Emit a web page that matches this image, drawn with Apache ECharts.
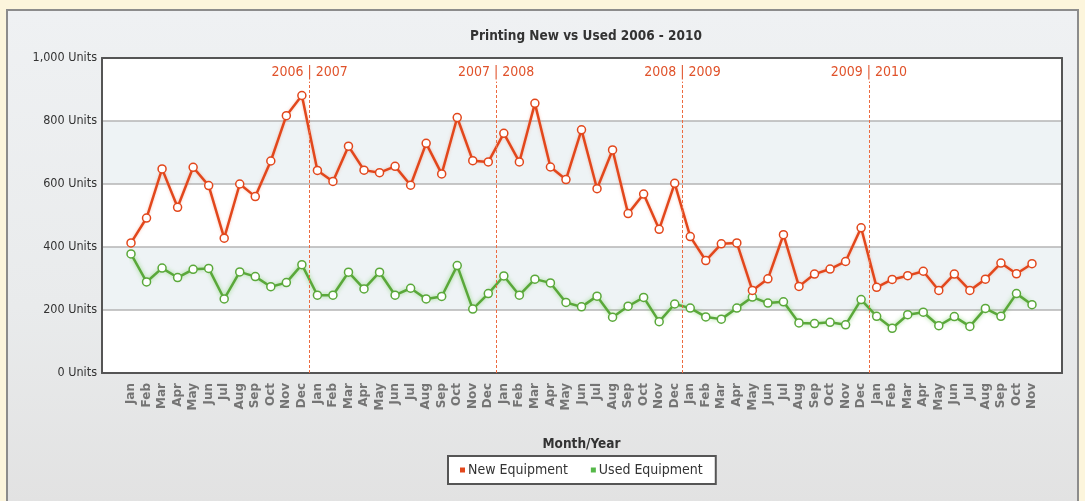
<!DOCTYPE html>
<html>
<head>
<meta charset="utf-8">
<script src="https://cdn.jsdelivr.net/npm/echarts@6/dist/echarts.min.js"></script>
<style>
  html, body { margin: 0; padding: 0; width: 1085px; height: 501px; overflow: hidden; background: #fcf5dc; }
  #panel { position: absolute; left: 6px; top: 9px; width: 1073px; height: 496px; border: 2px solid #8c8c8c;
           background: linear-gradient(#eff1f3, #e9ebec 60%, #e2e2e2); box-sizing: border-box; }
  #chart { position: absolute; left: 0; top: 0; width: 1085px; height: 501px; }
</style>
</head>
<body>
<div id="panel"></div>
<div id="chart"></div>
<script>
const months = ['Jan','Feb','Mar','Apr','May','Jun','Jul','Aug','Sep','Oct','Nov','Dec'];
const years = [2006, 2007, 2008, 2009, 2010];
const monthsInYear = [12, 12, 12, 12, 11];
const categories = [];
years.forEach((y, i) => { for (let m = 0; m < monthsInYear[i]; m++) categories.push(months[m]); });

const newEquipment = [
  413, 492, 648, 526, 653, 595, 428, 600, 560, 673, 817, 881,
  643, 608, 720, 644, 636, 656, 596, 729, 632, 811, 674, 670,
  761, 670, 856, 654, 614, 772, 585, 708, 506, 568, 456, 602,
  433, 357, 410, 413, 262, 299, 439, 275, 314, 330, 354, 461,
  272, 297, 309, 323, 262, 314, 262, 298, 349, 315, 347
];
const usedEquipment = [
  378, 289, 333, 303, 329, 332, 235, 321, 306, 274, 287, 344,
  247, 247, 320, 267, 320, 247, 269, 235, 243, 341, 203, 252,
  308, 247, 298, 286, 224, 210, 244, 177, 212, 240, 163, 219,
  206, 178, 171, 206, 241, 222, 226, 159, 157, 161, 153, 233,
  180, 142, 185, 193, 150, 179, 148, 205, 180, 252, 217
];
const yTicks = [0, 200, 400, 600, 800, 1000];
const yearDividers = ['2006 | 2007', '2007 | 2008', '2008 | 2009', '2009 | 2010'];

// divider sits between each December and the following January
const dividerPositions = [];
let acc = 0;
for (let i = 0; i < yearDividers.length; i++) { acc += monthsInYear[i]; dividerPositions.push(acc - 0.5); }

const ORANGE = '#e2471c';
const GREEN = '#5aa83a';
const condensed = '"DejaVu Sans Condensed", "DejaVu Sans", sans-serif';

const chart = echarts.init(document.getElementById('chart'), null, { renderer: 'canvas' });
chart.setOption({
  backgroundColor: 'transparent',
  animation: false,
  title: {
    text: 'Printing New vs Used 2006 - 2010',
    left: 581, top: 24, textAlign: 'center',
    textStyle: { fontFamily: condensed, fontSize: 13.5, fontWeight: 'bold', color: '#333' }
  },
  legend: {
    data: [
      { name: 'New Equipment', itemStyle: { color: ORANGE, borderWidth: 0 } },
      { name: 'Used Equipment', itemStyle: { color: '#55b848', borderWidth: 0 } }
    ],
    left: 448, top: 456,
    icon: 'rect', itemWidth: 5, itemHeight: 5, itemGap: 23,
    padding: [7, 13, 7, 12],
    backgroundColor: '#fff', borderColor: '#555', borderWidth: 2,
    textStyle: { fontFamily: condensed, fontSize: 14, color: '#333', padding: [0, 0, 0, -2] }
  },
  grid: [
    { left: 102, top: 58, width: 960, height: 315 },
    { left: 131, top: 58, width: 901, height: 315 }
  ],
  xAxis: [
    { gridIndex: 0, type: 'value', min: 0, max: 1, position: 'bottom',
      axisLine: { show: true, lineStyle: { color: '#555', width: 2 } },
      axisTick: { show: false }, axisLabel: { show: false }, splitLine: { show: false } },
    { gridIndex: 0, type: 'value', min: 0, max: 1, position: 'top',
      axisLine: { show: true, onZero: false, lineStyle: { color: '#555', width: 2 } },
      axisTick: { show: false }, axisLabel: { show: false }, splitLine: { show: false } },
    { gridIndex: 1, type: 'category', data: categories, boundaryGap: false,
      axisLine: { show: false }, axisTick: { show: false }, splitLine: { show: false },
      axisLabel: { rotate: 90, interval: 0, margin: 10, fontFamily: '"DejaVu Sans", sans-serif',
                   fontSize: 12, fontWeight: 'bold', color: '#747474' },
      name: 'Month/Year', nameLocation: 'middle', nameGap: 64,
      nameTextStyle: { fontFamily: condensed, fontSize: 13.5, fontWeight: 'bold', color: '#333' } },
    { gridIndex: 1, type: 'value', min: 0, max: categories.length - 1, show: false }
  ],
  yAxis: [
    { gridIndex: 0, type: 'value', min: 0, max: 1000, interval: 200, position: 'left',
      axisLine: { show: true, lineStyle: { color: '#555', width: 2 } },
      axisTick: { show: false },
      axisLabel: { margin: 5, fontFamily: condensed, fontSize: 12.5, color: '#333',
                   formatter: v => v.toLocaleString('en-US') + ' Units' },
      splitLine: { show: true, showMinLine: false, showMaxLine: false, lineStyle: { color: '#b4b4b4', width: 1.5 } },
      splitArea: { show: true, areaStyle: { color: ['#ffffff', '#eef3f5'] } } },
    { gridIndex: 0, type: 'value', min: 0, max: 1000, position: 'right',
      axisLine: { show: true, onZero: false, lineStyle: { color: '#555', width: 2 } },
      axisTick: { show: false }, axisLabel: { show: false }, splitLine: { show: false } },
    { gridIndex: 1, type: 'value', min: 0, max: 1000, show: false }
  ],
  series: [
    {
      name: 'New Equipment', type: 'line', xAxisIndex: 2, yAxisIndex: 2,
      data: newEquipment, symbol: 'circle', symbolSize: 8, z: 4,
      lineStyle: { color: ORANGE, width: 2.5, shadowColor: 'rgba(240,140,110,0.5)', shadowBlur: 3 },
      itemStyle: { color: '#fff', borderColor: ORANGE, borderWidth: 1.5 }
    },
    {
      name: 'Used Equipment', type: 'line', xAxisIndex: 2, yAxisIndex: 2,
      data: usedEquipment, symbol: 'circle', symbolSize: 8, z: 3,
      lineStyle: { color: GREEN, width: 2.5, shadowColor: 'rgba(130,210,110,0.8)', shadowBlur: 4 },
      itemStyle: { color: '#fff', borderColor: GREEN, borderWidth: 1.5 }
    },
    {
      name: 'dividers', type: 'line', xAxisIndex: 3, yAxisIndex: 2, data: [], silent: true,
      markLine: {
        silent: true, symbol: ['none', 'none'], animation: false,
        lineStyle: { color: '#ec6a40', width: 1, type: [3, 2] },
        label: { show: true, position: 'end', distance: 2, fontFamily: condensed, fontSize: 14, color: '#e0522a',
                 formatter: p => p.name },
        data: dividerPositions.map((x, i) => [
          { name: yearDividers[i], coord: [x, 0] },
          { coord: [x, 925] }
        ])
      }
    }
  ]
});
</script>
</body>
</html>
